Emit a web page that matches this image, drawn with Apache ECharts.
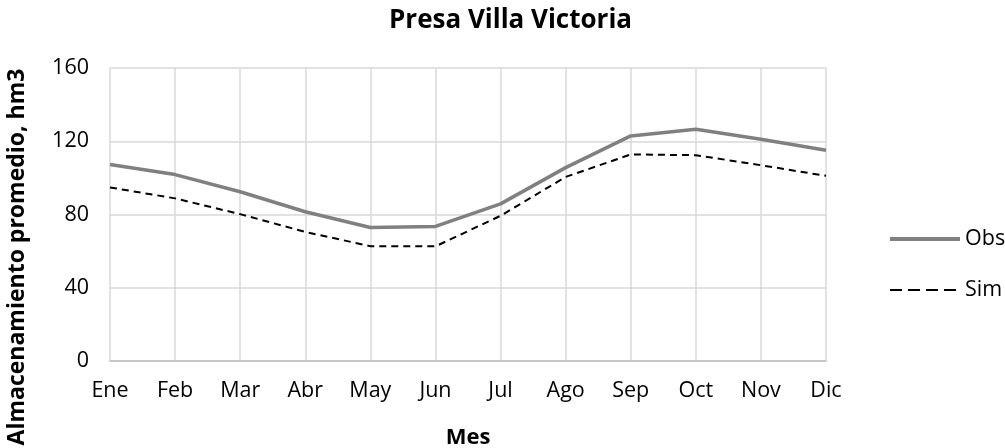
<!DOCTYPE html>
<html>
<head>
<meta charset="utf-8">
<script src="https://cdn.jsdelivr.net/npm/echarts@6/dist/echarts.min.js"></script>
<style>
  html, body { margin: 0; padding: 0; background: #fff; }
  #chart { width: 1005px; height: 448px; }
</style>
</head>
<body>
<div id="chart"></div>
<script>
var meses = ['Ene', 'Feb', 'Mar', 'Abr', 'May', 'Jun', 'Jul', 'Ago', 'Sep', 'Oct', 'Nov', 'Dic']
var obs = [107.3, 101.8, 92.4, 81.5, 72.9, 73.5, 85.8, 105.6, 122.9, 126.6, 121.1, 115.1]
var sim = [94.8, 88.8, 80.2, 70.5, 62.7, 62.6, 79.3, 100.5, 112.8, 112.4, 106.9, 101.1]

var fuente = '"Open Sans", sans-serif'
var chart = echarts.init(document.getElementById('chart'))
chart.setOption({
  animation: false,
  textStyle: { fontFamily: fuente },
  title: {
    text: 'Presa Villa Victoria',
    left: 384,
    top: 3,
    textStyle: { fontSize: 26, fontWeight: 'bold', color: '#000', fontFamily: fuente }
  },
  // titulo del eje Y (va un poco mas abajo que el centro del area de trazado)
  graphic: [
    {
      type: 'text',
      x: 17,
      y: 257,
      rotation: Math.PI / 2,
      style: {
        text: 'Almacenamiento promedio, hm3',
        align: 'center',
        verticalAlign: 'middle',
        fontSize: 23,
        fontWeight: 'bold',
        fontFamily: fuente,
        fill: '#000'
      }
    }
  ],
  grid: { left: 110, right: 179, top: 68, bottom: 87, outerBoundsMode: 'none' },
  legend: {
    orient: 'vertical',
    left: 883,
    top: 223,
    itemWidth: 70,
    itemHeight: 22,
    itemGap: 29,
    itemStyle: { opacity: 0 },
    textStyle: { fontSize: 21.5, color: '#000', fontFamily: fuente },
    data: [
      { name: 'Obs', lineStyle: { width: 4 } },
      { name: 'Sim', lineStyle: { width: 2, type: [12, 6] } }
    ]
  },
  xAxis: {
    type: 'category',
    data: meses,
    boundaryGap: false,
    name: 'Mes',
    nameLocation: 'middle',
    nameGap: 66,
    nameTextStyle: { fontSize: 22, fontWeight: 'bold', color: '#000' },
    axisLine: { lineStyle: { color: '#bfbfbf', width: 1.5 } },
    axisTick: { show: false },
    axisLabel: { fontSize: 21.5, color: '#000', margin: 19 },
    splitLine: { show: true, lineStyle: { color: '#d9d9d9', width: 1.5 } }
  },
  yAxis: {
    type: 'value',
    min: 0,
    max: 160,
    interval: 40,
    axisLine: { show: false },
    axisTick: { show: false },
    axisLabel: { fontSize: 21.5, color: '#000', margin: 21 },
    splitLine: { lineStyle: { color: '#d9d9d9', width: 1.5 } }
  },
  series: [
    {
      name: 'Obs',
      type: 'line',
      data: obs,
      symbol: 'none',
      lineStyle: { color: '#808080', width: 3.5 },
      itemStyle: { color: '#808080' }
    },
    {
      name: 'Sim',
      type: 'line',
      data: sim,
      symbol: 'none',
      lineStyle: { color: '#000', width: 2, type: [7, 5] },
      itemStyle: { color: '#000' }
    }
  ]
})
</script>
</body>
</html>
